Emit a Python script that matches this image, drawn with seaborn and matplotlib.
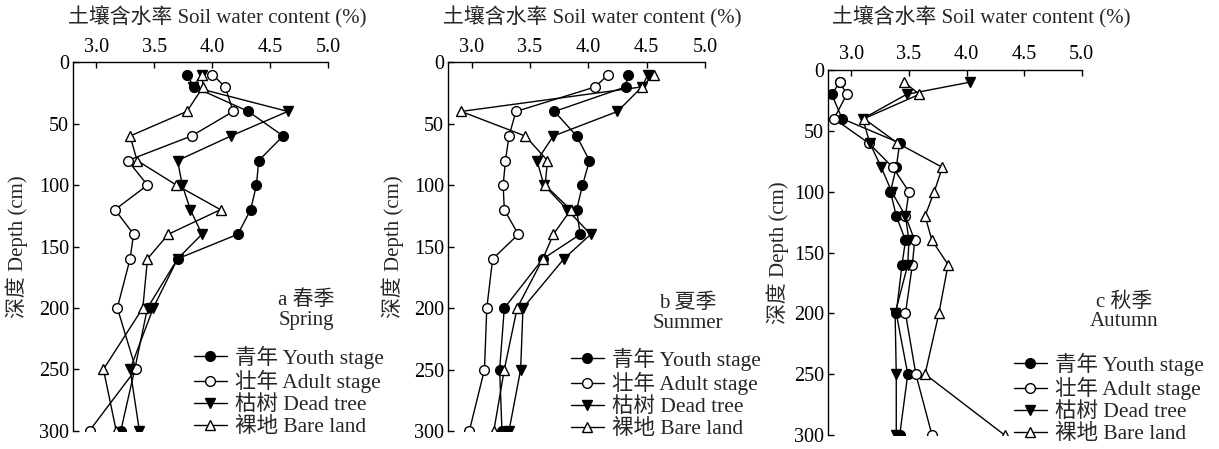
import matplotlib
matplotlib.use("Agg")
import matplotlib.pyplot as plt
import seaborn as sns
import pandas as pd

# Sampling depths (cm)
depth = [10, 20, 40, 60, 80, 100, 120, 140, 160, 200, 250, 300]

# Soil water content (%) — spring
youth_spring = [3.78, 3.84, 4.31, 4.61, 4.40, 4.38, 4.33, 4.22, 3.70, 3.44, 3.33, 3.21]
adult_spring = [4.00, 4.11, 4.18, 3.82, 3.27, 3.44, 3.16, 3.32, 3.29, 3.18, 3.34, 2.94]
dead_spring = [3.91, 3.83, 4.65, 4.16, 3.70, 3.74, 3.81, 3.91, 3.70, 3.49, 3.29, 3.37]
bare_spring = [3.91, 3.92, 3.78, 3.29, 3.35, 3.69, 4.07, 3.62, 3.44, 3.40, 3.06, 3.17]

# Summer
youth_summer = [4.34, 4.32, 3.71, 3.90, 4.01, 3.95, 3.90, 3.93, 3.61, 3.28, 3.24, 3.26]
adult_summer = [4.17, 4.06, 3.38, 3.32, 3.29, 3.27, 3.28, 3.40, 3.18, 3.13, 3.11, 2.98]
dead_summer = [4.51, 4.46, 4.25, 3.70, 3.56, 3.62, 3.82, 4.02, 3.79, 3.44, 3.42, 3.32]
bare_summer = [4.56, 4.46, 2.91, 3.46, 3.65, 3.63, 3.85, 3.70, 3.61, 3.39, 3.28, 3.19]

# Autumn
youth_autumn = [2.90, 2.83, 2.92, 3.42, 3.39, 3.34, 3.39, 3.47, 3.44, 3.39, 3.49, 3.42]
adult_autumn = [2.90, 2.96, 2.85, 3.15, 3.36, 3.50, 3.47, 3.55, 3.53, 3.47, 3.56, 3.70]
dead_autumn = [4.03, 3.48, 3.10, 3.16, 3.26, 3.35, 3.47, 3.50, 3.49, 3.38, 3.39, 3.39]
bare_autumn = [3.46, 3.59, 3.11, 3.40, 3.79, 3.72, 3.64, 3.70, 3.84, 3.76, 3.64, 4.33]

series_labels = ["青年 Youth stage", "壮年 Adult stage", "枯树 Dead tree", "裸地 Bare land"]
panel_titles = [("a 春季", "Spring"), ("b 夏季", "Summer"), ("c 秋季", "Autumn")]
x_ticks = [3.0, 3.5, 4.0, 4.5, 5.0]
y_ticks = [0, 50, 100, 150, 200, 250, 300]

seasons = [
    [youth_spring, adult_spring, dead_spring, bare_spring],
    [youth_summer, adult_summer, dead_summer, bare_summer],
    [youth_autumn, adult_autumn, dead_autumn, bare_autumn],
]

sns.set_style("white")
plt.rcParams["font.family"] = ["Liberation Serif", "Noto Sans CJK SC"]
plt.rcParams["axes.unicode_minus"] = False

marker_styles = [
    dict(marker="o", markerfacecolor="black"),
    dict(marker="o", markerfacecolor="white"),
    dict(marker="v", markerfacecolor="black"),
    dict(marker="^", markerfacecolor="white"),
]

fig = plt.figure(figsize=(12.19, 4.49), dpi=100)
W, H = 1219, 449
# axes boxes in pixels: left, top, right, bottom
boxes = [(73.3, 62.3, 328.3, 430.7), (448.3, 62.3, 705.0, 431.0), (828.3, 70.0, 1081.7, 435.0)]
xlabel_pos = [(0.565, 1.123), (0.562, 1.123), (0.603, 1.145)]
ylabel_x = [-0.221, -0.215, -0.198]
legend_anchor = [(190, 341), (567, 343), (1010, 348)]
title_pos = [(306, 300, 320), (688, 303, 323), (1124, 302, 322)]

for i, (l, t, r, b) in enumerate(boxes):
    ax = fig.add_axes([l / W, 1 - b / H, (r - l) / W, (b - t) / H])
    handles = []
    for vals, lab, ms in zip(seasons[i], series_labels, marker_styles):
        df = pd.DataFrame({"value": vals, "depth": depth})
        sns.lineplot(data=df, x="value", y="depth", orient="y", sort=False,
                     estimator=None, color="black", linewidth=1.0,
                     markersize=7, markeredgecolor="black",
                     markeredgewidth=1.0, ax=ax, **ms)
        handles.append(ax.lines[-1])
    ax.set_xlim(2.8, 5.0)
    ax.set_ylim(300, 0)
    ax.set_xticks(x_ticks)
    ax.set_xticklabels([f"{v:.1f}" for v in x_ticks])
    ax.set_yticks(y_ticks)
    ax.xaxis.tick_top()
    ax.xaxis.set_label_position("top")
    for side in ("right", "bottom"):
        ax.spines[side].set_visible(False)
    for side in ("left", "top"):
        ax.spines[side].set_color("black")
        ax.spines[side].set_linewidth(1.0)
    ax.tick_params(axis="x", direction="in", length=4, width=1, pad=4,
                   labelsize=14.5, colors="black", top=True, bottom=False)
    ax.tick_params(axis="y", direction="in", length=4, width=1, pad=3,
                   labelsize=14.5, colors="black", left=True)
    ax.set_xlabel("土壤含水率 Soil water content (%)", fontsize=15)
    ax.xaxis.set_label_coords(*xlabel_pos[i])
    ax.xaxis.label.set_va("center")
    ax.set_ylabel("深度 Depth (cm)", fontsize=15)
    ax.yaxis.set_label_coords(ylabel_x[i], 0.5)
    ax.yaxis.label.set_va("center")
    ax.grid(False)

    lx, ly = legend_anchor[i]
    ax.legend(handles, series_labels, loc="upper left",
              bbox_to_anchor=(lx / W, 1 - ly / H), bbox_transform=fig.transFigure,
              frameon=False, fontsize=15.5, handlelength=1.5, handletextpad=0.4,
              labelspacing=0.08, borderpad=0.2, borderaxespad=0.0, numpoints=1)

    tx, ty1, ty2 = title_pos[i]
    fig.text(tx / W, 1 - ty1 / H, panel_titles[i][0], ha="center", va="center", fontsize=15)
    fig.text(tx / W, 1 - ty2 / H, panel_titles[i][1], ha="center", va="center", fontsize=15)

fig.savefig("out.png", dpi=100)
